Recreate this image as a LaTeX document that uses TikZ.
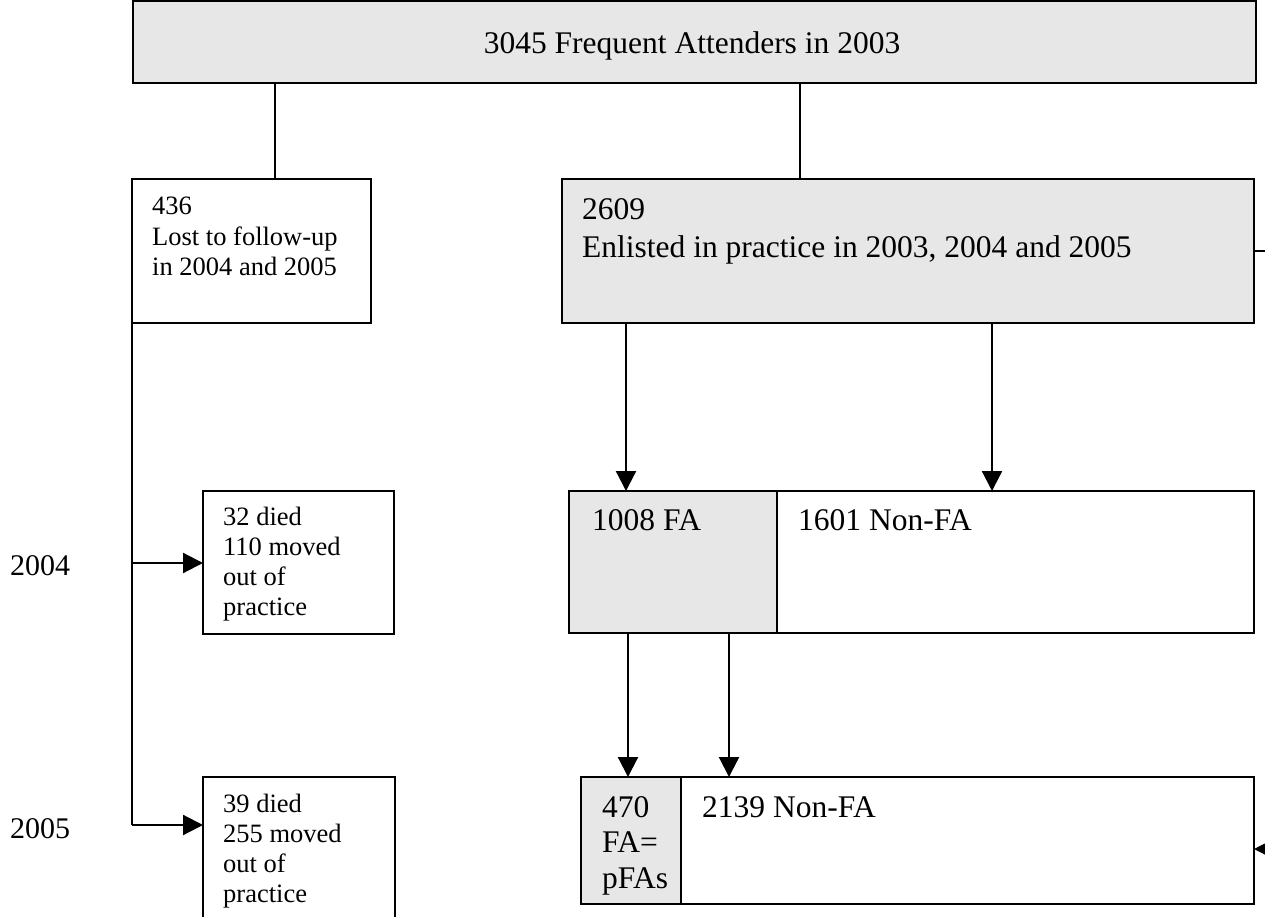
\documentclass[tikz,border=0pt]{standalone}
\usepackage{fontspec}
\setmainfont{Liberation Serif}
\usetikzlibrary{arrows.meta}
\definecolor{boxgray}{RGB}{231,231,231}
\tikzset{
  box/.style={draw, line width=2.2pt, anchor=north west, inner sep=0pt, outer sep=0pt},
  grey/.style={fill=boxgray},
  big/.style={font=\fontsize{31.5}{36}\selectfont, anchor=base west, inner sep=0pt},
  small/.style={font=\fontsize{26.5}{30}\selectfont, anchor=base west, inner sep=0pt},
  year/.style={font=\fontsize{30}{34}\selectfont, anchor=base west, inner sep=0pt},
  ln/.style={line width=2.2pt},
  arr/.style={line width=2.2pt, -{Triangle[length=20pt,width=20pt]}}
}
\begin{document}
\begin{tikzpicture}[x=1pt,y=-1pt]
\useasboundingbox (0,0) rectangle (1265,917);
\clip (0,0) rectangle (1265,917);
% boxes
\node[box,grey,minimum width=1123pt,minimum height=82pt] (top) at (133,1) {};
\node[box,minimum width=239pt,minimum height=144pt] (lost) at (132,179) {};
\node[box,grey,minimum width=692pt,minimum height=144pt] (enl) at (562,179) {};
\node[box,minimum width=191pt,minimum height=143pt] (d04) at (203,491) {};
\node[box,grey,minimum width=208pt,minimum height=142pt] (fa04) at (569,491) {};
\node[box,minimum width=477pt,minimum height=142pt] (nfa04) at (777,491) {};
\node[box,minimum width=192pt,minimum height=170pt] (d05) at (203,777) {};
\node[box,grey,minimum width=100pt,minimum height=127pt] (fa05) at (581,777) {};
\node[box,minimum width=573pt,minimum height=127pt] (nfa05) at (681,777) {};
% texts
\node[big,anchor=base] (ttop) at (692,54) {3045 Frequent Attenders in 2003};
\node[small] (tl1) at (152,215) {436};
\node[small] (tl2) at (152,246) {Lost to follow-up};
\node[small] (tl3) at (152,276) {in 2004 and 2005};
\node[big] (te1) at (582,220) {2609};
\node[big] (te2) at (582,258) {Enlisted in practice in 2003, 2004 and 2005};
\node[small] (ta1) at (223,525) {32 died};
\node[small] (ta2) at (223,555) {110 moved};
\node[small] (ta3) at (223,585) {out of};
\node[small] (ta4) at (223,615) {practice};
\node[small] (tb1) at (223,812) {39 died};
\node[small] (tb2) at (223,842) {255 moved};
\node[small] (tb3) at (223,872) {out of};
\node[small] (tb4) at (223,902) {practice};
\node[big] (tf1) at (592,530) {1008 FA};
\node[big] (tn1) at (798,530) {1601 Non-FA};
\node[big] (tf2a) at (602,817) {470};
\node[big] (tf2b) at (602,852) {FA=};
\node[big] (tf2c) at (602,888) {pFAs};
\node[big] (tn2) at (702,817) {2139 Non-FA};
\node[year] (y04) at (10,575) {2004};
\node[year] (y05) at (10,838) {2005};
% helper coordinates
\coordinate (x275) at (275,0);
\coordinate (x800) at (800,0);
\coordinate (x626) at (626,0);
\coordinate (x992) at (992,0);
\coordinate (x628) at (628,0);
\coordinate (x729) at (729,0);
\coordinate (c04) at (132,563);
\coordinate (c05) at (132,825);
\coordinate (r1) at (1270,251);
\coordinate (r2) at (1285,849);
% connectors
\draw[ln] (top.south -| x275) -- (lost.north -| x275);
\draw[ln] (top.south -| x800) -- (enl.north -| x800);
\draw[arr] (enl.south -| x626) -- (fa04.north -| x626);
\draw[arr] (enl.south -| x992) -- (nfa04.north -| x992);
\draw[arr] (fa04.south -| x628) -- (fa05.north -| x628);
\draw[arr] (fa04.south -| x729) -- (nfa05.north -| x729);
\draw[ln] (lost.south west) -- (c05);
\draw[arr] (c04) -- (c04 -| d04.west);
\draw[arr] (c05) -- (c05 -| d05.west);
\draw[ln] (r1 -| enl.east) -- (r1);
\draw[arr] (r2) -- (r2 -| nfa05.east);
\end{tikzpicture}
\end{document}
